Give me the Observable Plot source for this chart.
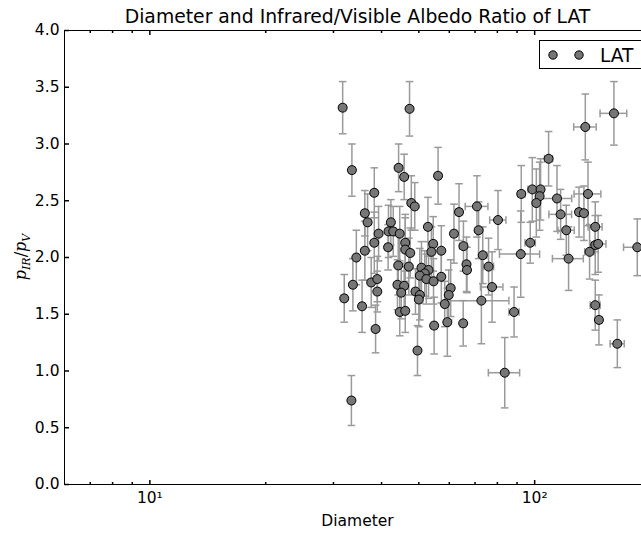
<!DOCTYPE html>
<html>
<head>
<meta charset="utf-8">
<script src="https://cdn.jsdelivr.net/npm/d3@7"></script>
<script src="https://cdn.jsdelivr.net/npm/@observablehq/plot@0.6"></script>
<style>
  html, body { margin: 0; padding: 0; background: #fff; overflow: hidden; }
  #chart svg { display: block; }
</style>
</head>
<body>
<div id="chart"></div>
<script>
// ---- data ----
const titleText = "Diameter and Infrared/Visible Albedo Ratio of LAT";
const xLabelText = "Diameter";
const seriesName = "LAT";

const diameter = [
  31.7, 32.0, 33.5, 33.4, 33.7, 34.4, 35.6, 36.2, 36.2, 36.8,
  38.3, 38.3, 39.3, 37.6, 39.0, 39.0, 38.6, 44.3, 45.8, 47.3,
  47.8, 48.8, 42.3, 41.7, 42.9, 44.6, 41.6, 46.1, 46.1, 47.5,
  44.2, 47.1, 44.0, 45.8, 45.0, 44.6, 46.1, 49.0, 50.3, 50.0,
  49.6, 52.8, 54.5, 53.9, 50.8, 53.0, 51.8, 50.3, 52.3, 54.6,
  54.8, 56.1, 57.2, 57.2, 58.4, 60.5, 59.8, 59.3, 61.7, 63.6,
  65.3, 66.5, 66.7, 65.2, 70.8, 71.5, 73.3, 72.7, 75.9, 77.5,
  80.3, 83.6, 88.4, 92.0, 92.3, 97.4, 98.6, 103.6, 103.0, 101.0,
  108.7, 114.3, 116.8, 120.8, 122.5, 130.4, 134.3, 135.4, 137.6, 138.9,
  143.7, 143.7, 146.2, 143.7, 146.9, 160.7, 164.0, 184.8
];
const albedoRatio = [
  3.32, 1.64, 2.77, 0.74, 1.76, 2.00, 1.57, 2.06, 2.39, 2.31,
  2.57, 2.13, 2.21, 1.78, 1.81, 1.70, 1.37, 2.79, 2.71, 3.31,
  2.48, 2.45, 2.31, 2.23, 2.23, 2.21, 2.09, 2.13, 2.07, 2.04,
  1.93, 1.92, 1.76, 1.75, 1.69, 1.52, 1.53, 1.70, 1.67, 1.63,
  1.18, 2.27, 2.12, 2.05, 1.91, 1.89, 1.86, 1.84, 1.81, 1.79,
  1.40, 2.72, 2.06, 1.83, 1.59, 1.73, 1.67, 1.43, 2.21, 2.40,
  2.10, 1.94, 1.89, 1.42, 2.45, 2.24, 2.02, 1.62, 1.92, 1.74,
  2.33, 0.985, 1.52, 2.03, 2.56, 2.13, 2.60, 2.60, 2.54, 2.48,
  2.87, 2.52, 2.38, 2.24, 1.99, 2.40, 2.39, 3.15, 2.56, 2.05,
  2.27, 2.11, 2.12, 1.58, 1.45, 3.27, 1.24, 2.09
];
const diameterErr = [
  0.6, 0.6, 0.6, 0.6, 0.6, 0.6, 0.6, 0.7, 0.7, 0.7,
  0.7, 0.7, 0.7, 0.7, 0.7, 0.7, 0.7, 0.8, 0.8, 0.8,
  0.8, 0.8, 0.8, 0.8, 0.8, 0.8, 0.8, 0.8, 0.8, 0.8,
  0.8, 0.8, 0.8, 0.8, 0.8, 0.8, 0.8, 0.9, 0.9, 0.9,
  0.9, 0.9, 1.0, 1.0, 0.9, 0.9, 0.9, 0.9, 0.9, 1.0,
  1.0, 1.0, 1.0, 1.0, 1.0, 1.1, 1.1, 1.1, 1.1, 1.2,
  1.5, 1.2, 1.2, 1.2, 4.8, 1.3, 1.8, 13.0, 2.3, 5.2,
  3.9, 7.8, 2.7, 11.0, 2.0, 3.0, 2.5, 2.0, 2.0, 2.0,
  2.6, 10.5, 7.9, 5.9, 11.3, 2.5, 2.5, 9.1, 11.0, 4.0,
  6.0, 3.0, 7.0, 4.3, 3.0, 12.8, 6.9, 14.6
];
const ratioErr = [
  0.23, 0.21, 0.23, 0.22, 0.23, 0.24, 0.23, 0.26, 0.20, 0.25,
  0.22, 0.27, 0.24, 0.22, 0.20, 0.18, 0.21, 0.21, 0.20, 0.24,
  0.24, 0.21, 0.20, 0.23, 0.22, 0.24, 0.20, 0.25, 0.28, 0.22,
  0.26, 0.25, 0.22, 0.20, 0.23, 0.21, 0.19, 0.20, 0.22, 0.24,
  0.22, 0.26, 0.24, 0.22, 0.23, 0.25, 0.20, 0.24, 0.22, 0.20,
  0.25, 0.25, 0.22, 0.23, 0.20, 0.25, 0.22, 0.30, 0.26, 0.25,
  0.22, 0.24, 0.20, 0.20, 0.27, 0.25, 0.25, 0.38, 0.25, 0.31,
  0.26, 0.31, 0.22, 0.38, 0.25, 0.18, 0.28, 0.27, 0.30, 0.30,
  0.24, 0.29, 0.22, 0.22, 0.28, 0.22, 0.24, 0.29, 0.28, 0.24,
  0.22, 0.26, 0.25, 0.22, 0.22, 0.28, 0.21, 0.25
];

const yTicks = [0, 0.5, 1.0, 1.5, 2.0, 2.5, 3.0, 3.5, 4.0];
const yTickLabels = ["0.0", "0.5", "1.0", "1.5", "2.0", "2.5", "3.0", "3.5", "4.0"];
const xMajorTicks = [10, 100];
const xTickLabels = ["10\u00b9", "10\u00b2"];
const xMinorTicks = [7, 8, 9, 20, 30, 40, 50, 60, 70, 80, 90, 200];

// ---- build table ----
const data = diameter.map((d, i) => ({
  x: d, y: albedoRatio[i], xe: diameterErr[i], ye: ratioErr[i]
}));

// custom line symbols (pixel sized)
const rad = (size) => Math.sqrt(size / Math.PI);
const hLine = {draw(c, s) { const r = rad(s); c.moveTo(-r, 0); c.lineTo(r, 0); }};
const vLine = {draw(c, s) { const r = rad(s); c.moveTo(0, -r); c.lineTo(0, r); }};
const tickUp = {draw(c, s) { const r = rad(s); c.moveTo(0, 0); c.lineTo(0, -r); }};
const tickDown = {draw(c, s) { const r = rad(s); c.moveTo(0, 0); c.lineTo(0, r); }};
const tickRight = {draw(c, s) { const r = rad(s); c.moveTo(0, 0); c.lineTo(r, 0); }};
const tickLeft = {draw(c, s) { const r = rad(s); c.moveTo(0, 0); c.lineTo(-r, 0); }};

const errColor = "#9a9a9a";
const markFill = "#767676";
const FONT = "DejaVu Sans, sans-serif";

const chart = Plot.plot({
  width: 641,
  height: 534,
  marginTop: 30,
  marginBottom: 50,
  marginLeft: 64,
  marginRight: -9,
  style: {fontFamily: FONT, fontSize: "15.5px", background: "#fff", overflow: "hidden", color: "black"},
  x: {type: "log", domain: [6, 200], axis: null},
  y: {domain: [0, 4], axis: null},
  marks: [
    // error bars
    Plot.ruleX(data, {x: "x", y1: d => d.y - d.ye, y2: d => d.y + d.ye, stroke: errColor, strokeWidth: 1.5}),
    Plot.ruleY(data, {y: "y", x1: d => d.x - d.xe, x2: d => d.x + d.xe, stroke: errColor, strokeWidth: 1.5}),
    Plot.dot(data, {x: "x", y: d => d.y - d.ye, symbol: hLine, r: 3.8, fill: "none", stroke: errColor, strokeWidth: 1.5}),
    Plot.dot(data, {x: "x", y: d => d.y + d.ye, symbol: hLine, r: 3.8, fill: "none", stroke: errColor, strokeWidth: 1.5}),
    Plot.dot(data, {x: d => d.x - d.xe, y: "y", symbol: vLine, r: 3.8, fill: "none", stroke: errColor, strokeWidth: 1.5}),
    Plot.dot(data, {x: d => d.x + d.xe, y: "y", symbol: vLine, r: 3.8, fill: "none", stroke: errColor, strokeWidth: 1.5}),
    // markers
    Plot.dot(data, {x: "x", y: "y", r: 4.5, fill: markFill, stroke: "black", strokeWidth: 1}),
    // frame
    Plot.frame({stroke: "black", strokeWidth: 1}),
    // inward ticks
    Plot.dot(xMajorTicks, {x: d => d, frameAnchor: "bottom", symbol: tickUp, r: 4.5, fill: "none", stroke: "black"}),
    Plot.dot(xMajorTicks, {x: d => d, frameAnchor: "top", symbol: tickDown, r: 4.5, fill: "none", stroke: "black"}),
    Plot.dot(xMinorTicks, {x: d => d, frameAnchor: "bottom", symbol: tickUp, r: 2.5, fill: "none", stroke: "black"}),
    Plot.dot(xMinorTicks, {x: d => d, frameAnchor: "top", symbol: tickDown, r: 2.5, fill: "none", stroke: "black"}),
    Plot.dot(yTicks, {y: d => d, frameAnchor: "left", symbol: tickRight, r: 4.5, fill: "none", stroke: "black"}),
    Plot.dot(yTicks, {y: d => d, frameAnchor: "right", symbol: tickLeft, r: 4.5, fill: "none", stroke: "black"}),
    // tick labels
    Plot.text(yTicks, {y: d => d, frameAnchor: "left", dx: -5, textAnchor: "end", lineAnchor: "middle", text: (d, i) => yTickLabels[i], fontSize: 15.5, fill: "black"}),
    Plot.text(xMajorTicks, {x: d => d, frameAnchor: "bottom", dy: 14, lineAnchor: "middle", text: (d, i) => xTickLabels[i], fontSize: 15.5, fill: "black"}),
    // axis label and title
    Plot.text([xLabelText], {frameAnchor: "bottom", dy: 37, lineAnchor: "middle", text: d => d, fontSize: 15.5, fill: "black"}),
    Plot.text([titleText], {frameAnchor: "top", dy: -14, lineAnchor: "middle", text: d => d, fontSize: 18.8, fill: "black"})
  ]
});

document.getElementById("chart").appendChild(chart);

// y-axis label with subscripts (mathtext style)
const svg = d3.select(chart);
const yl = svg.append("text")
  .attr("transform", "translate(26,257) rotate(-90)")
  .attr("text-anchor", "middle")
  .attr("font-family", "DejaVu Serif, serif")
  .attr("font-size", 16)
  .attr("fill", "black");
yl.append("tspan").attr("font-style", "italic").text("p");
yl.append("tspan").attr("font-style", "italic").attr("font-size", 11).attr("dy", 4).text("IR");
yl.append("tspan").attr("dy", -4).text("/");
yl.append("tspan").attr("font-style", "italic").text("p");
yl.append("tspan").attr("font-style", "italic").attr("font-size", 11).attr("dy", 4).text("V");

// legend box (top-right, inside axes)
const lg = svg.append("g").attr("class", "legend");
lg.append("rect").attr("x", 539.5).attr("y", 40.5).attr("width", 120).attr("height", 28)
  .attr("fill", "white").attr("stroke", "black").attr("stroke-width", 1);
[553, 579].forEach(cx => lg.append("circle").attr("cx", cx).attr("cy", 55).attr("r", 4.2)
  .attr("fill", markFill).attr("stroke", "black").attr("stroke-width", 1));
lg.append("text").attr("x", 600).attr("y", 62).attr("text-anchor", "start")
  .attr("font-family", FONT).attr("font-size", 18.6)
  .attr("fill", "black").text(seriesName);
</script>
</body>
</html>
